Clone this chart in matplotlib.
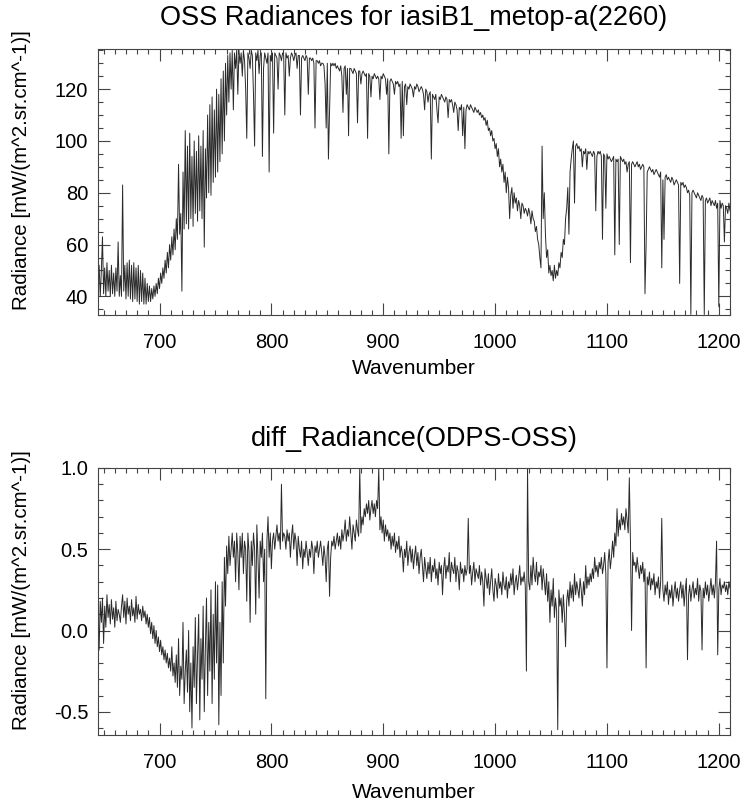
import numpy as np
import matplotlib
matplotlib.use("Agg")
import matplotlib.pyplot as plt
from matplotlib.ticker import MultipleLocator

plt.rcParams['font.family'] = ['Liberation Sans', 'DejaVu Sans']

# channel wavenumbers (1 cm^-1 sampling of the plotted spectrum)
wn_start = 645
wn_stop = 1210

title_top = "OSS Radiances for iasiB1_metop-a(2260)"
title_bot = "diff_Radiance(ODPS-OSS)"
xlabel = "Wavenumber"
ylabel = "Radiance [mW/(m^2.sr.cm^-1)]"

xticks = [700, 800, 900, 1000, 1100, 1200]
yticks_top = [40, 60, 80, 100, 120]
yticks_bot = [-0.5, 0.0, 0.5, 1.0]
yticklabels_bot = ["-0.5", "0.0", "0.5", "1.0"]

radiance = [
    44, 52, 40, 50, 63, 41, 51, 40, 53, 42,        # 645
    50, 40, 52, 41, 49, 40, 51, 42, 61, 40,        # 655
    48, 40, 83, 42, 52, 39, 53, 40, 54, 39,        # 665
    52, 38, 53, 39, 51, 38, 52, 37, 50, 38,        # 675
    49, 37, 47, 37, 45, 38, 44, 38, 43, 39,        # 685
    44, 40, 45, 41, 47, 43, 49, 45, 51, 47,        # 695
    54, 49, 57, 51, 60, 54, 63, 56, 66, 58,        # 705
    70, 62, 91, 64, 72, 42, 88, 66, 104, 68,       # 715
    98, 66, 103, 70, 94, 67, 100, 72, 96, 69,      # 725
    102, 73, 98, 70, 104, 59, 97, 78, 110, 80,     # 735
    114, 79, 117, 84, 112, 86, 120, 88, 118, 92,   # 745
    124, 95, 127, 100, 130, 110, 133, 115, 134, 120,  # 755
    135, 112, 134, 128, 135, 118, 135, 130, 134, 125, # 765
    135, 131, 120, 101, 134, 132, 128, 135, 133, 118, # 775
    98, 134, 131, 135, 126, 133, 134, 94, 128, 134,   # 785
    132, 130, 134, 88, 133, 131, 134, 103, 134, 133,  # 795
    132, 120, 134, 133, 131, 134, 133, 110, 134, 132, # 805
    133, 125, 132, 134, 133, 131, 133, 134, 128, 133, # 815
    133, 110, 132, 133, 132, 131, 133, 132, 118, 132, # 825
    132, 131, 132, 130, 105, 131, 131, 130, 131, 129, # 835
    130, 130, 129, 122, 105, 130, 93, 112, 130, 129,  # 845
    130, 129, 130, 128, 129, 128, 127, 129, 125, 111, # 855
    128, 129, 118, 128, 102, 128, 128, 127, 126, 128, # 865
    127, 126, 107, 127, 127, 122, 126, 127, 126, 125, # 875
    126, 101, 126, 125, 117, 125, 124, 126, 125, 124, # 885
    125, 124, 116, 125, 124, 126, 125, 124, 118, 124, # 895
    95, 123, 124, 123, 122, 118, 123, 122, 123, 121,  # 905
    122, 101, 123, 102, 121, 122, 114, 121, 120, 122, # 915
    121, 120, 117, 121, 120, 122, 121, 119, 120, 121, # 925
    120, 118, 112, 120, 119, 115, 118, 119, 93, 118,  # 935
    117, 116, 118, 112, 107, 117, 116, 118, 117, 116, # 945
    115, 117, 116, 109, 116, 115, 116, 114, 111, 115, # 955
    114, 112, 104, 113, 112, 114, 102, 113, 97, 112,  # 965
    114, 113, 112, 114, 113, 112, 111, 113, 112, 111, # 975
    112, 110, 111, 109, 110, 108, 109, 106, 108, 104, # 985
    105, 102, 104, 100, 101, 97, 99, 94, 97, 90,      # 995
    93, 88, 91, 84, 88, 80, 86, 82, 70, 79,           # 1005
    82, 74, 80, 76, 78, 73, 77, 75, 70, 76,           # 1015
    75, 72, 74, 73, 71, 74, 72, 68, 73, 70,           # 1025
    69, 65, 67, 62, 60, 55, 51, 98, 70, 80,           # 1035
    64, 55, 58, 49, 52, 48, 50, 46, 52, 47,           # 1045
    50, 48, 53, 51, 57, 55, 62, 60, 70, 74,           # 1055
    82, 64, 88, 93, 97, 100, 76, 98, 99, 97,          # 1065
    98, 96, 97, 90, 96, 95, 97, 89, 96, 95,           # 1075
    96, 95, 94, 96, 95, 73, 94, 96, 95, 96,           # 1085
    94, 62, 95, 94, 74, 95, 93, 94, 93, 92,           # 1095
    93, 94, 56, 93, 92, 93, 60, 94, 93, 92,           # 1105
    93, 91, 92, 88, 91, 92, 53, 91, 92, 91,           # 1115
    90, 91, 92, 90, 91, 89, 90, 91, 90, 41,           # 1125
    60, 88, 89, 90, 89, 88, 89, 87, 88, 89,           # 1135
    88, 87, 86, 88, 51, 85, 62, 86, 87, 85,           # 1145
    86, 85, 84, 86, 85, 83, 84, 85, 84, 83,           # 1155
    45, 84, 83, 84, 82, 83, 82, 80, 81, 79,           # 1165
    33, 80, 81, 80, 79, 78, 80, 79, 78, 77,           # 1175
    79, 78, 33, 77, 78, 76, 77, 78, 75, 77,           # 1185
    76, 75, 77, 74, 76, 36, 77, 74, 76, 75,           # 1195
    61, 75, 74, 72, 76, 73,                           # 1205
]

diff = [
    0.12, -0.12, 0.18, 0.05, 0.20, -0.08, 0.15, 0.02, 0.22, 0.08,   # 645
    0.16, 0.04, 0.19, 0.07, 0.14, 0.02, 0.18, 0.06, 0.13, 0.10,     # 655
    0.05, 0.15, 0.22, 0.08, 0.18, 0.04, 0.20, 0.10, 0.15, 0.06,     # 665
    0.19, 0.09, 0.14, 0.05, 0.21, 0.07, 0.16, 0.10, 0.13, 0.06,     # 675
    0.15, 0.08, 0.12, 0.04, 0.10, 0.02, 0.08, -0.02, 0.05, -0.05,   # 685
    0.03, -0.08, 0.00, -0.10, -0.04, -0.13, -0.06, -0.15, -0.10, -0.18,  # 695
    -0.12, -0.20, -0.14, -0.23, -0.17, -0.25, -0.10, -0.28, -0.20, -0.32,  # 705
    -0.15, -0.35, -0.05, -0.40, -0.22, -0.30, 0.05, -0.45, -0.25, -0.12,  # 715
    -0.38, 0.00, -0.50, -0.20, -0.60, -0.10, -0.35, 0.08, -0.45, -0.15,   # 725
    0.10, -0.55, -0.05, -0.30, 0.15, -0.50, -0.10, 0.20, -0.40, 0.05,     # 735
    -0.25, 0.25, -0.45, 0.10, -0.30, 0.30, -0.20, 0.28, -0.58, 0.05,      # 745
    -0.40, 0.30, -0.20, 0.45, 0.15, 0.52, 0.35, 0.58, 0.40, 0.50,         # 755
    0.60, 0.45, 0.55, 0.30, 0.60, 0.48, 0.25, 0.58, 0.45, 0.60,           # 765
    0.35, 0.55, 0.50, 0.18, 0.60, 0.48, 0.05, 0.55, 0.40, 0.60,           # 775
    0.50, 0.10, 0.65, 0.45, 0.20, 0.55, 0.45, 0.60, 0.30, 0.50,           # 785
    -0.42, 0.55, 0.70, 0.45, 0.60, 0.38, 0.55, 0.60, 0.50, 0.58,          # 795
    0.65, 0.55, 0.60, 0.50, 0.90, 0.55, 0.60, 0.58, 0.50, 0.62,           # 805
    0.55, 0.60, 0.45, 0.58, 0.65, 0.50, 0.60, 0.55, 0.40, 0.58,           # 815
    0.50, 0.45, 0.55, 0.38, 0.50, 0.45, 0.55, 0.48, 0.40, 0.50,           # 825
    0.45, 0.55, 0.50, 0.35, 0.52, 0.48, 0.55, 0.45, 0.50, 0.55,           # 835
    0.48, 0.40, 0.52, 0.45, 0.30, 0.50, 0.55, 0.21, 0.45, 0.55,           # 845
    0.52, 0.58, 0.50, 0.55, 0.60, 0.52, 0.58, 0.50, 0.62, 0.55,           # 855
    0.60, 0.68, 0.55, 0.62, 0.58, 0.70, 0.60, 0.50, 0.65, 0.60,           # 865
    0.55, 0.68, 0.62, 0.58, 1.00, 0.60, 0.70, 0.65, 0.75, 0.70,           # 875
    0.78, 0.72, 0.80, 0.68, 0.75, 0.80, 0.72, 0.78, 0.70, 0.80,           # 885
    0.75, 1.00, 0.62, 0.70, 0.60, 0.68, 0.55, 0.65, 0.58, 0.62,           # 895
    0.55, 0.60, 0.50, 0.58, 0.52, 0.60, 0.48, 0.55, 0.50, 0.58,           # 905
    0.45, 0.52, 0.48, 0.36, 0.50, 0.45, 0.55, 0.40, 0.48, 0.52,           # 915
    0.42, 0.50, 0.38, 0.46, 0.52, 0.40, 0.48, 0.35, 0.45, 0.50,           # 925
    0.40, 0.30, 0.45, 0.38, 0.32, 0.42, 0.35, 0.45, 0.30, 0.40,           # 935
    0.36, 0.44, 0.32, 0.38, 0.28, 0.42, 0.35, 0.40, 0.22, 0.38,           # 945
    0.45, 0.32, 0.40, 0.36, 0.48, 0.30, 0.42, 0.38, 0.35, 0.45,           # 955
    0.30, 0.40, 0.36, 0.25, 0.42, 0.35, 0.38, 0.30, 0.40, 0.34,           # 965
    0.38, 0.69, 0.35, 0.40, 0.28, 0.36, 0.42, 0.30, 0.38, 0.35,           # 975
    0.32, 0.40, 0.28, 0.36, 0.30, 0.15, 0.38, 0.32, 0.26, 0.35,           # 985
    0.22, 0.30, 0.38, 0.25, 0.18, 0.32, 0.28, 0.20, 0.35, 0.26,           # 995
    0.30, 0.22, 0.36, 0.28, 0.25, 0.33, 0.20, 0.30, 0.26, 0.35,           # 1005
    0.28, 0.38, 0.22, 0.30, 0.34, 0.25, 0.32, 0.40, 0.28, 0.33,           # 1015
    0.30, 0.36, 0.27, -0.25, 1.00, 0.30, 0.25, 0.40, 0.28, 0.45,          # 1025
    0.35, 0.30, 0.42, 0.28, 0.36, 0.33, 0.40, 0.25, 0.38, 0.30,           # 1035
    0.22, 0.35, 0.18, 0.30, 0.05, 0.25, 0.15, 0.32, 0.08, 0.20,           # 1045
    0.12, -0.61, 0.25, 0.15, 0.20, 0.05, 0.22, 0.10, -0.10, 0.18,         # 1055
    0.25, 0.15, 0.30, 0.20, 0.28, 0.18, 0.35, 0.22, 0.30, 0.25,           # 1065
    0.20, 0.32, 0.25, 0.15, 0.30, 0.22, 0.40, 0.26, 0.33, 0.28,           # 1075
    0.35, 0.30, 0.38, 0.32, 0.45, 0.36, 0.40, 0.33, 0.42, 0.38,           # 1085
    0.45, 0.35, 0.40, 0.48, 0.35, -0.23, 0.42, 0.50, 0.38, 0.45,          # 1095
    0.55, 0.45, 0.60, 0.52, 0.75, 0.58, 0.68, 0.62, 0.72, 0.65,           # 1105
    0.70, 0.62, 0.75, 0.68, 0.60, 0.94, 0.55, 0.00, 0.48, 0.40,           # 1115
    0.42, 0.36, 0.45, 0.38, 0.32, 0.40, 0.35, 0.42, 0.30, 0.38,           # 1125
    -0.23, 0.33, 0.28, 0.36, 0.25, 0.32, 0.28, 0.35, 0.22, 0.30,          # 1135
    0.26, 0.33, 0.20, 0.30, 0.69, 0.25, 0.18, 0.28, 0.22, 0.30,           # 1145
    0.16, 0.25, 0.20, 0.28, 0.15, 0.24, 0.30, 0.20, 0.26, 0.18,           # 1155
    0.25, 0.30, 0.20, 0.28, 0.15, 0.25, 0.32, -0.18, 0.22, 0.28,          # 1165
    0.18, 0.25, 0.30, 0.20, 0.26, 0.22, 0.32, 0.18, 0.28, 0.24,           # 1175
    -0.12, 0.26, 0.20, 0.30, 0.22, 0.28, 0.18, 0.25, 0.32, 0.22,          # 1185
    0.28, 0.20, 0.30, 0.55, -0.15, 0.25, 0.32, 0.22, 0.28, 0.26,          # 1195
    0.30, 0.24, 0.28, 0.22, 0.30, 0.26,                                   # 1205
]

wavenumber = np.arange(wn_start, wn_stop + 1, 1.0)

W, H = 744, 809
fig = plt.figure(figsize=(W / 100, H / 100), dpi=100)

def px_axes(left, top, right, bottom):
    return fig.add_axes([left / W, 1 - bottom / H, (right - left) / W, (bottom - top) / H])

ax1 = px_axes(98, 49, 730, 315)
ax2 = px_axes(98, 467.5, 730, 735)

line_kw = dict(color='#2a2a2a', lw=0.7)
ax1.plot(wavenumber, radiance, **line_kw)
ax2.plot(wavenumber, diff, **line_kw)

ax1.set_xlim(645, 1210)
ax1.set_ylim(32.8, 135.5)
ax2.set_xlim(645, 1210)
ax2.set_ylim(-0.643, 1.003)

for ax in (ax1, ax2):
    ax.set_xticks(xticks)
    ax.xaxis.set_minor_locator(MultipleLocator(10))
    ax.tick_params(which='both', direction='in', top=True, right=True,
                   color='#444444', width=0.8, labelsize=14.5)
    ax.tick_params(which='major', length=8.6)
    ax.tick_params(which='minor', length=3.6)
    ax.tick_params(axis='x', pad=13)
    ax.tick_params(axis='y', pad=7)
    for s in ax.spines.values():
        s.set_color('#444444')
        s.set_linewidth(0.8)

ax1.set_yticks(yticks_top)
ax1.yaxis.set_minor_locator(MultipleLocator(5))
ax2.set_yticks(yticks_bot)
ax2.set_yticklabels(yticklabels_bot)
ax2.yaxis.set_minor_locator(MultipleLocator(0.1))

fig.text(414 / W, 1 - 18 / H, title_top, ha='center', va='center', fontsize=19.5)
fig.text(414 / W, 1 - 439 / H, title_bot, ha='center', va='center', fontsize=19.5)
fig.text(414 / W, 1 - 369 / H, xlabel, ha='center', va='center', fontsize=15)
fig.text(414 / W, 1 - 792 / H, xlabel, ha='center', va='center', fontsize=15)
fig.text(22 / W, 1 - 170 / H, ylabel, ha='center', va='center', rotation=90, fontsize=14.8)
fig.text(22 / W, 1 - 590 / H, ylabel, ha='center', va='center', rotation=90, fontsize=14.8)

fig.savefig("out.png", dpi=100)
